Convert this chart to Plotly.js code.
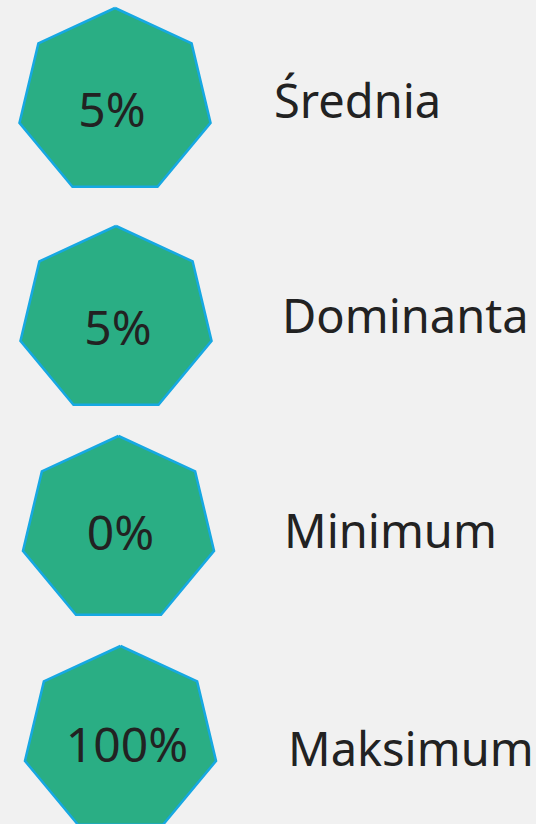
<!DOCTYPE html>
<html>
<head>
<meta charset="utf-8">
<script src="https://cdn.plot.ly/plotly-3.0.1.min.js"></script>
<style>
html,body{margin:0;padding:0;background:#f1f1f1;}
#chart{width:536px;height:824px;}
</style>
</head>
<body>
<div id="chart"></div>
<script>
// Data
const categories = ['Średnia', 'Dominanta', 'Minimum', 'Maksimum'];
const values = [5, 5, 0, 100];
const valueLabels = values.map(v => v + '%');

// Layout positions (pixel space of the 536x824 canvas)
const centerX = [115, 116, 118.5, 120.5];
const centerY = [102, 320, 530, 740];
const textX = [112, 118, 120.5, 127];
const textY = [115, 333, 538, 750];
const labelX = [274, 282, 284, 288];
const labelY = [106, 321, 536, 754];
const radiusX = 98, radiusY = 94;

const fillColor = '#2aae84';
const lineColor = '#16a8e2';
const textColor = '#222222';
const fontFamily = '"Noto Sans", sans-serif';

const traces = [];
categories.forEach((c, i) => {
  const xs = [], ys = [];
  for (let k = 0; k <= 7; k++) {
    const a = Math.PI / 2 + k * 2 * Math.PI / 7;
    xs.push(centerX[i] + radiusX * Math.cos(a));
    ys.push(centerY[i] - radiusY * Math.sin(a));
  }
  traces.push({
    type: 'scatter', mode: 'lines', x: xs, y: ys, fill: 'toself',
    fillcolor: fillColor, line: {color: lineColor, width: 2.5},
    hoverinfo: 'skip', showlegend: false
  });
});

traces.push({
  type: 'scatter', mode: 'text', x: textX, y: textY, text: valueLabels,
  textposition: 'middle center',
  textfont: {family: fontFamily, size: 48, color: textColor},
  hoverinfo: 'skip', showlegend: false
});
traces.push({
  type: 'scatter', mode: 'text', x: labelX, y: labelY, text: categories,
  textposition: 'middle right',
  textfont: {family: fontFamily, size: 47, color: textColor},
  hoverinfo: 'skip', showlegend: false
});

const layout = {
  width: 536, height: 824,
  margin: {l: 0, r: 0, t: 0, b: 0},
  paper_bgcolor: '#f1f1f1', plot_bgcolor: '#f1f1f1',
  xaxis: {range: [0, 536], visible: false, fixedrange: true},
  yaxis: {range: [824, 0], visible: false, fixedrange: true},
  showlegend: false
};

Plotly.newPlot('chart', traces, layout, {staticPlot: true, displayModeBar: false});
</script>
</body>
</html>
